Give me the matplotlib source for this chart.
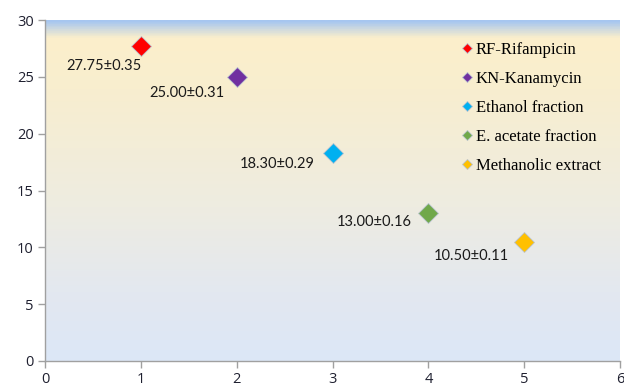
import numpy as np
import matplotlib.pyplot as plt
from matplotlib.colors import LinearSegmentedColormap

# Zone of inhibition results (mm)
names = ["RF-Rifampicin", "KN-Kanamycin", "Ethanol fraction",
         "E. acetate fraction", "Methanolic extract"]
x_pos = [1, 2, 3, 4, 5]
means = [27.75, 25.00, 18.30, 13.00, 10.50]
errors = [0.35, 0.31, 0.29, 0.16, 0.11]
colors = ["#ff0000", "#7030a0", "#00b0f0", "#70a84a", "#ffc000"]
label_offsets = [(-37, -20), (-50, -16), (-55, -11), (-54, -9), (-53, -14)]

fig = plt.figure(figsize=(6.24, 3.91), dpi=100)
ax = fig.add_axes([45 / 624, 1 - 361 / 391, 575 / 624, 341 / 391])

# Plot-area background gradient
grad = LinearSegmentedColormap.from_list(
    "bg",
    [(0.0, "#a6c6f0"), (0.05, "#fcefcb"), (0.2, "#f8eecf"),
     (0.55, "#eeece1"), (0.8, "#e3e8f0"), (1.0, "#dce7f7")])
ax.imshow(np.linspace(0, 1, 400).reshape(-1, 1), cmap=grad, aspect="auto",
          extent=[0, 1, 0, 1], transform=ax.transAxes, zorder=0)

for xi, m, e, c, n, off in zip(x_pos, means, errors, colors, names, label_offsets):
    ax.plot([xi], [m], linestyle="none", marker="D", markersize=10.5,
            markerfacecolor=c, markeredgecolor="#b9c3cf", markeredgewidth=0.6,
            label=n, zorder=3)
    ax.annotate(f"{m:.2f}\u00b1{e:.2f}", (xi, m), xytext=off,
                textcoords="offset pixels", ha="center", va="center",
                fontsize=10.5, family="Lato", color="#1a1a1a", zorder=4)

ax.set_xlim(0, 6)
ax.set_ylim(0, 30)
ax.set_xticks(range(0, 7))
ax.set_yticks(range(0, 31, 5))

for side in ("top", "right"):
    ax.spines[side].set_visible(False)
for side in ("left", "bottom"):
    ax.spines[side].set_color("#a0a0a0")
    ax.spines[side].set_linewidth(1.0)
ax.tick_params(direction="out", length=5, width=1.0, color="#a0a0a0",
               labelsize=10.5, labelcolor="#1f2030", pad=3)
for lab in ax.get_xticklabels() + ax.get_yticklabels():
    lab.set_family("Open Sans")

leg = ax.legend(loc="upper left", bbox_to_anchor=(460 / 624, 1 - 42 / 391),
                bbox_transform=fig.transFigure, frameon=False,
                prop={"family": "Liberation Serif", "size": 12},
                handletextpad=0.15, handlelength=0.8, labelspacing=0.78,
                markerscale=0.5, borderaxespad=0, borderpad=0)

fig.savefig("out.png", dpi=100)
